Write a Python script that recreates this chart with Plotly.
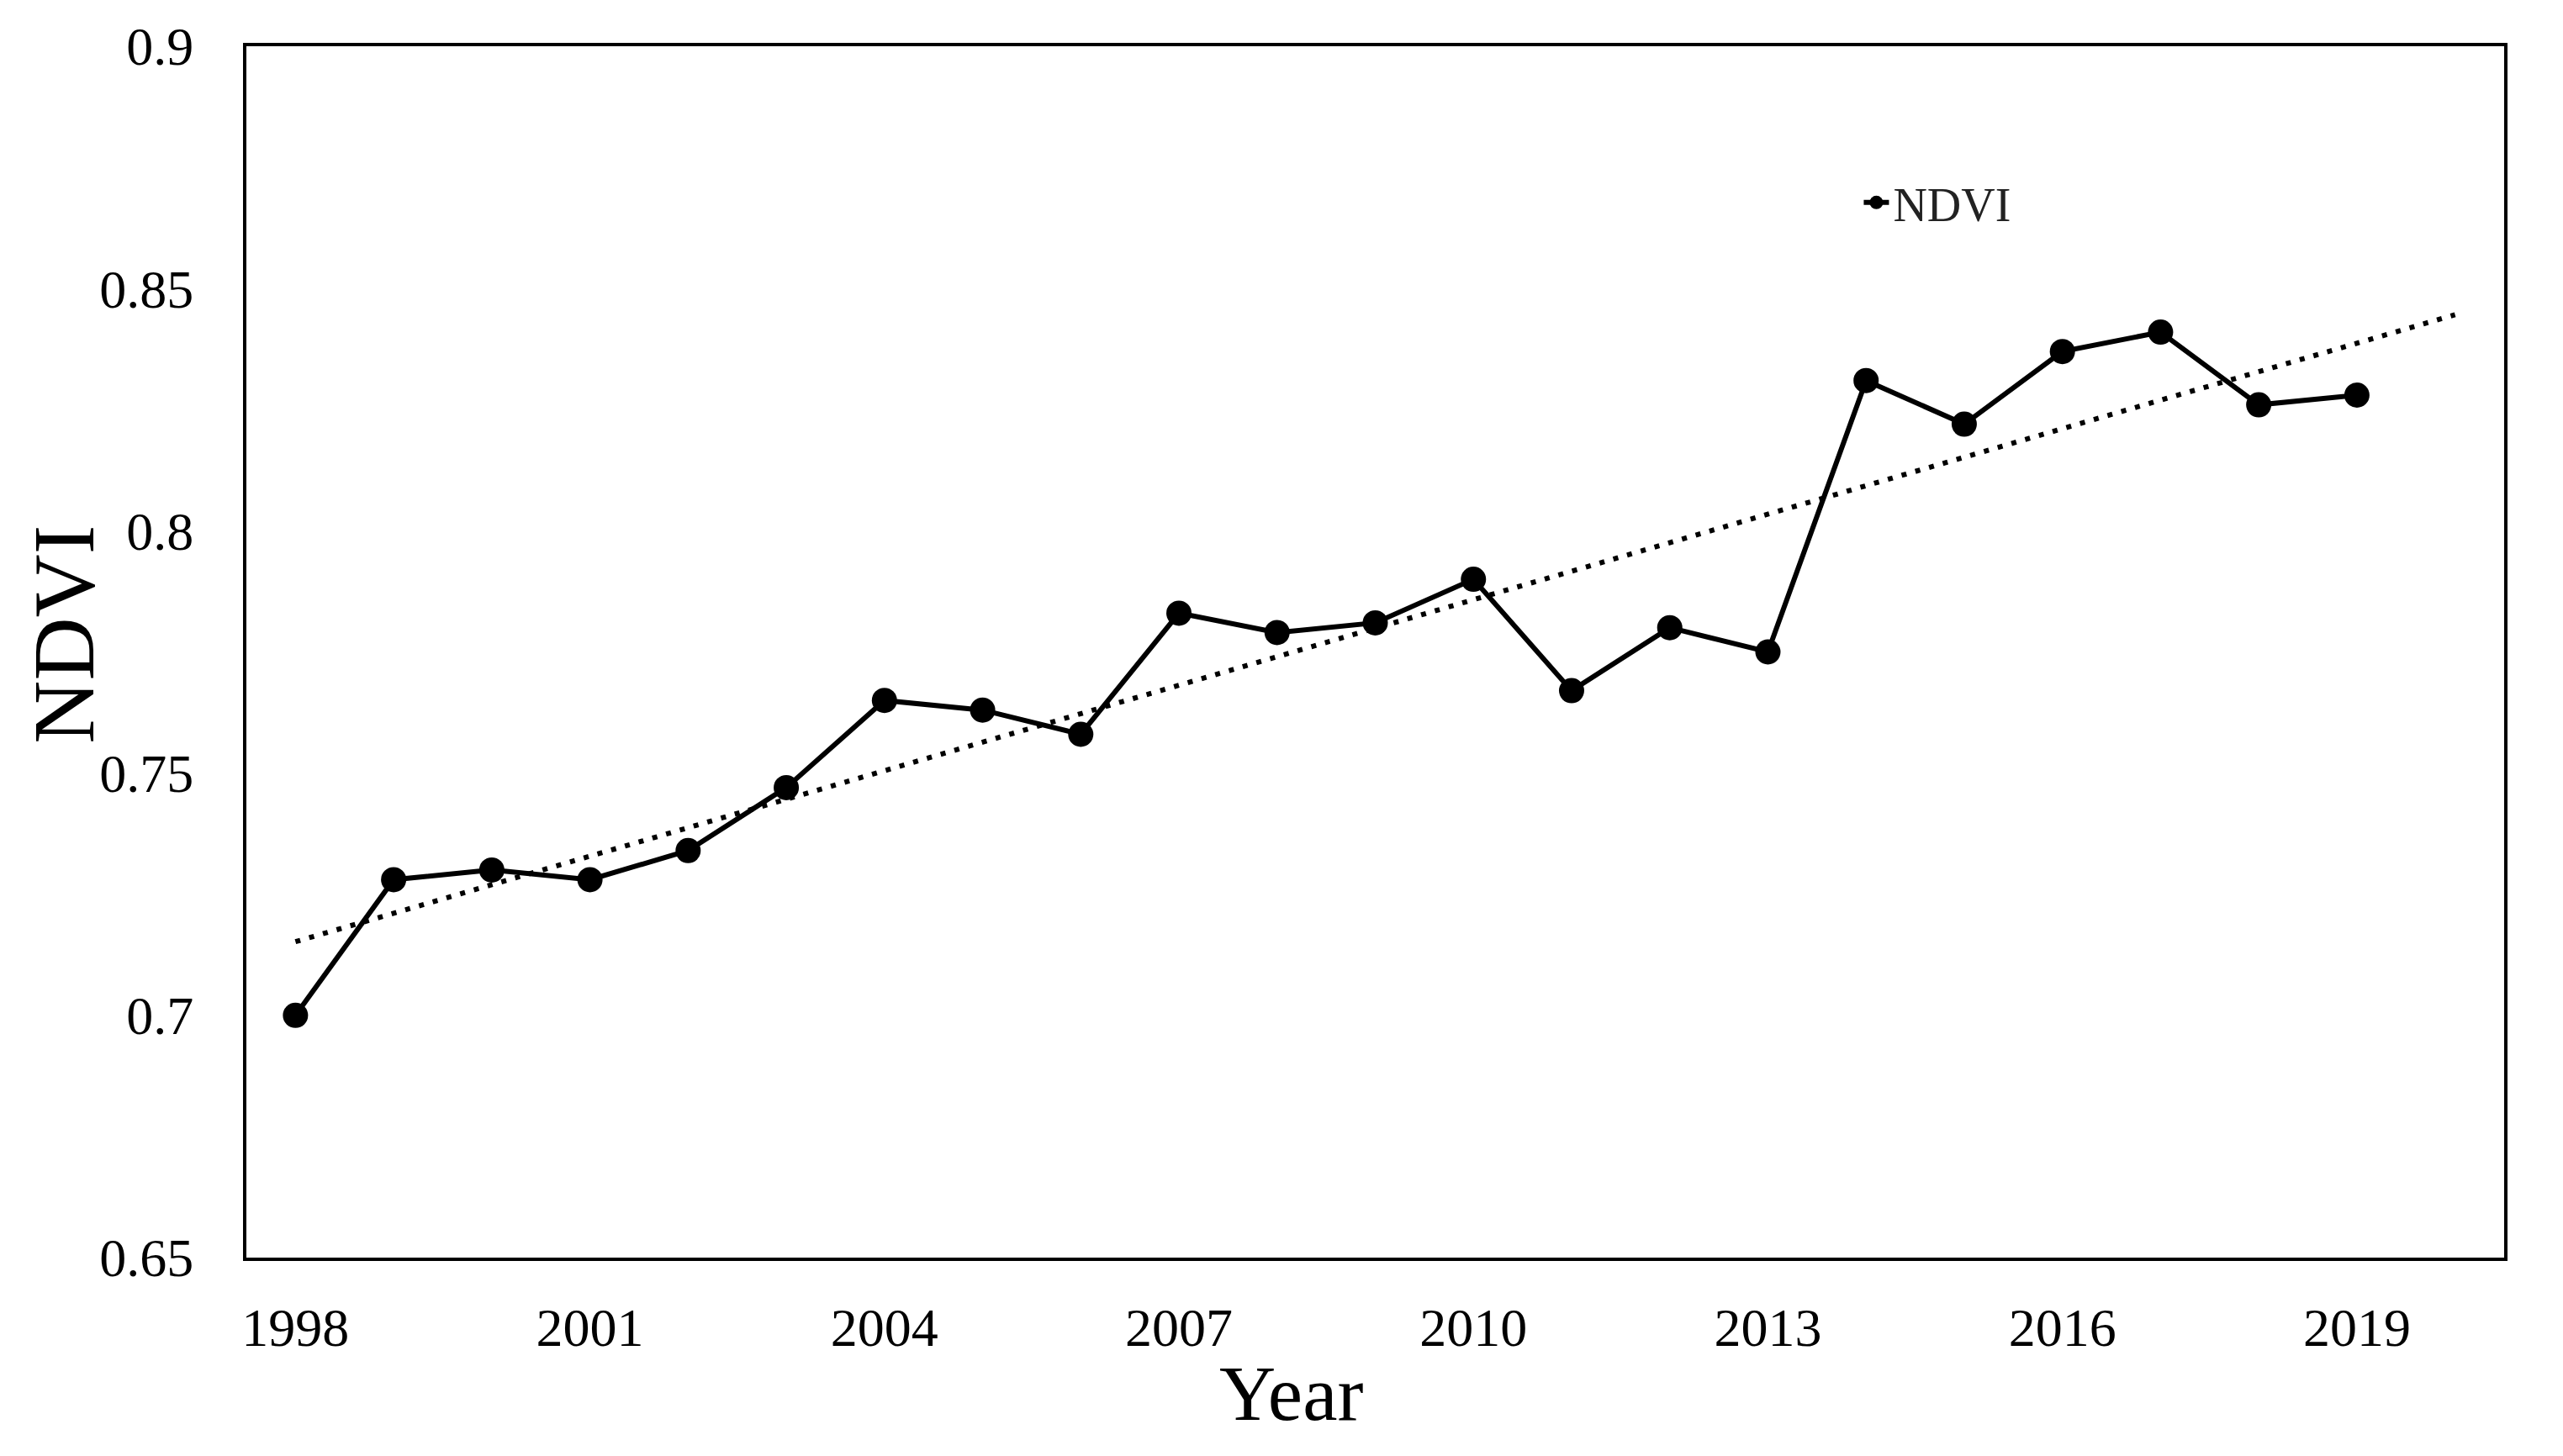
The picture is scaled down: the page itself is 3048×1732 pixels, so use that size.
import numpy as np
import plotly.graph_objects as go

years = list(range(1998, 2020))
ndvi = [0.700, 0.728, 0.730, 0.728, 0.734, 0.747, 0.765, 0.763, 0.758, 0.783,
        0.779, 0.781, 0.790, 0.767, 0.780, 0.775, 0.831, 0.822, 0.837, 0.841,
        0.826, 0.828]
x_ticks = [1998, 2001, 2004, 2007, 2010, 2013, 2016, 2019]
y_ticks = [0.65, 0.7, 0.75, 0.8, 0.85, 0.9]

# linear trendline (forecast forward one period, as in the original)
coef = np.polyfit(years, ndvi, 1)
trend_x = [years[0], years[-1] + 1]
trend_y = [float(np.polyval(coef, v)) for v in trend_x]

FONT = "Liberation Serif"

fig = go.Figure()
fig.add_trace(go.Scatter(
    x=trend_x, y=trend_y, mode="lines",
    line=dict(color="black", width=6, dash="6px,11px"),
    showlegend=False, hoverinfo="skip"))
fig.add_trace(go.Scatter(
    x=years, y=ndvi, mode="lines+markers", name="NDVI",
    line=dict(color="black", width=6),
    marker=dict(color="black", size=30)))

# page body has an 8px default margin, so the figure is 8px smaller
fig.update_layout(
    width=3040, height=1724,
    margin=dict(l=285, r=70, t=44, b=236),
    paper_bgcolor="white", plot_bgcolor="white",
    font=dict(family=FONT, color="black", size=60),
    legend=dict(x=0.7145, y=0.871, xanchor="left", yanchor="middle",
                font=dict(family=FONT, size=56, color="#222"),
                bgcolor="rgba(0,0,0,0)"),
    xaxis=dict(range=[1997.5, 2020.5], tickvals=x_ticks,
               ticktext=[str(v) for v in x_ticks],
               showgrid=False, zeroline=False, showline=True, mirror=True,
               linecolor="black", linewidth=4, ticks="",
               ticklabelstandoff=24,
               tickfont=dict(family=FONT, size=64)),
    yaxis=dict(range=[0.65, 0.9], tickvals=y_ticks,
               ticktext=[f"{v:g}" for v in y_ticks],
               showgrid=False, zeroline=False, showline=True, mirror=True,
               linecolor="black", linewidth=4, ticks="",
               ticklabelstandoff=46,
               tickfont=dict(family=FONT, size=64)),
    annotations=[
        dict(text="Year", xref="paper", yref="paper", x=0.4626, y=-0.1122,
             xanchor="center", yanchor="middle", showarrow=False,
             font=dict(family=FONT, size=93, color="black")),
        dict(text="NDVI", xref="paper", yref="paper", x=-0.0808, y=0.5145,
             xanchor="center", yanchor="middle", showarrow=False, textangle=-90,
             font=dict(family=FONT, size=104, color="black")),
    ],
)

fig.write_html("out.html")
